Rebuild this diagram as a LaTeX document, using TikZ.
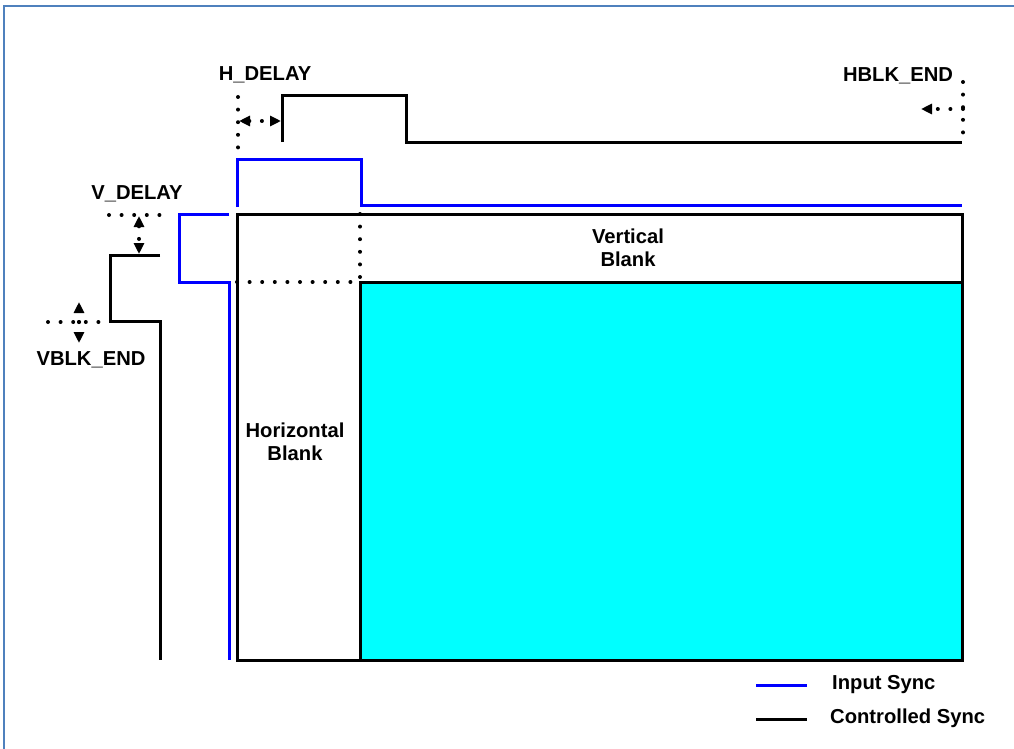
\documentclass[tikz,border=0pt]{standalone}
\usepackage{fontspec}
\setmainfont{Liberation Sans}
\usepackage{xcolor}
\usetikzlibrary{positioning,arrows.meta}
\definecolor{framecol}{RGB}{79,129,189}
\definecolor{activecol}{RGB}{0,255,255}

\tikzset{
	ctrl/.style={black, line width=3pt},
	insync/.style={blue, line width=3pt},
	dots/.style={black, line width=4pt, line cap=round, dash pattern=on 0pt off 12.6pt},
	lbl/.style={font=\bfseries\fontsize{20.2}{23}\selectfont, inner sep=0pt, align=center},
}

\begin{document}
\begin{tikzpicture}[x=1pt, y=-1pt, >={Triangle[length=11pt,width=10pt]}]
			\useasboundingbox (0,0) rectangle (1014,749);
			\draw[framecol, line width=2.5pt] (4,760) -- (4,6) -- (1020,6);

			% active area and blanking
			\fill[activecol] (360,282) rectangle (962,660);
			\draw[ctrl] (237,214) rectangle (962,660);
			\draw[ctrl] (360,660) -- (360,282) -- (962,282);
			\draw[dots] (360,214) -- (360,282);
			\draw[dots] (237,282) -- (360,282);
			\node[lbl] (vblank) at (628,248) {Vertical\\Blank};
			\node[lbl] (hblank) at (295,442) {Horizontal\\Blank};

			% horizontal syncs
			\draw[insync] (237,207) -- (237,159) -- (361,159) -- (361,205) -- (962,205);
			\draw[ctrl] (282,142) -- (282,96) -- (406,96) -- (406,142) -- (962,142);

			% vertical syncs
			\draw[insync] (229,214) -- (179,214) -- (179,282) -- (229,282) -- (229,660);
			\draw[ctrl] (160,255) -- (110,255) -- (110,321) -- (160,321) -- (160,660);

			% H_DELAY
			\node[lbl] (hdelay) at (265,75) {H\_DELAY};
			\coordinate (hd1) at (239,121);
			\coordinate (hd2) at (281,121);
			\draw[dots] (238,97) -- (238,148);
			\draw[dots, <->] (hd1) -- (hd2);

			% HBLK_END
			\node[lbl] (hblkend) at (898,76) {HBLK\_END};
			\coordinate (he1) at (963,109);
			\coordinate (he2) at (921,109);
			\draw[dots] (963,82) -- (963,134);
			\draw[dots, ->] (he1) -- (he2);

			% V_DELAY
			\node[lbl] (vdelay) at (137,194) {V\_DELAY};
			\coordinate (vd1) at (139,216);
			\coordinate (vd2) at (139,254);
			\draw[dots] (109,215) -- (165,215);
			\draw[dots, <->] (vd1) -- (vd2);

			% VBLK_END
			\node[lbl] (vblkend) at (91,360) {VBLK\_END};
			\coordinate (ve) at (79,322);
			\coordinate (veup) at (79,302);
			\coordinate (vedn) at (79,343);
			\draw[dots] (48,322) -- (105,322);
			\draw[dots, ->] (ve) -- (veup);
			\draw[dots, ->] (ve) -- (vedn);

			% legend
			\draw[insync] (756,685) -- (807,685);
			\draw[ctrl] (756,719) -- (807,719);
			\node[lbl, anchor=west] (leg1) at (832,685) {Input Sync};
			\node[lbl, anchor=west] (leg2) at (830,718) {Controlled Sync};

		\end{tikzpicture}
\end{document}
